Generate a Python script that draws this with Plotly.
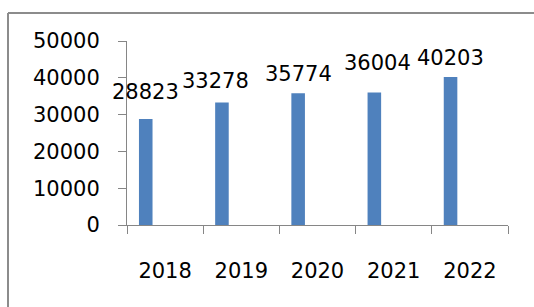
import plotly.graph_objects as go

years = ["2018", "2019", "2020", "2021", "2022"]
values = [28823, 33278, 35774, 36004, 40203]
y_ticks = [0, 10000, 20000, 30000, 40000, 50000]

# label nudges (px) relative to bar top/center
label_dx = [0, -6, 0, 3, 0]
label_dy = [27, 22, 19, 30, 19]

W, H = 534, 307
L, T = 127, 41
plot_w, plot_h = 381, 184
R = W - L - plot_w
B = H - T - plot_h
cat_px = plot_w / len(years)

bar_w = 0.178
bar_off = -0.343
bar_center_shift = (bar_off + bar_w / 2) * cat_px

FONT = "DejaVu Sans"
FS = 21
GRAY = "#868686"
FRAME = "#8C8C8C"

fig = go.Figure()
fig.add_trace(go.Bar(
    x=years, y=values,
    width=bar_w, offset=bar_off,
    marker=dict(color="#4F81BD", line=dict(width=0)),
    hoverinfo="skip",
))

for i, (v, dx, dy) in enumerate(zip(values, label_dx, label_dy)):
    fig.add_annotation(
        x=i, y=v, text=str(v), showarrow=False,
        xshift=bar_center_shift + dx, yshift=dy,
        xanchor="center", yanchor="middle",
        font=dict(family=FONT, size=FS, color="#000000"),
    )

# outer chart frame: only top and left edges are visible in the window
fx0 = (8 - L) / plot_w
fx1 = (W + 20 - L) / plot_w
fy_top = (H - B - 13) / plot_h
fy_bot = -(B + 20) / plot_h
fig.add_shape(type="line", xref="paper", yref="paper",
              x0=fx0, x1=fx1, y0=fy_top, y1=fy_top,
              line=dict(color=FRAME, width=2), layer="below")
fig.add_shape(type="line", xref="paper", yref="paper",
              x0=fx0, x1=fx0, y0=fy_bot, y1=fy_top,
              line=dict(color=FRAME, width=2), layer="below")

fig.update_layout(
    width=W, height=H,
    margin=dict(l=L, r=R, t=T, b=B, pad=0),
    paper_bgcolor="white", plot_bgcolor="white",
    showlegend=False,
    font=dict(family=FONT, size=FS, color="#000000"),
)
fig.update_xaxes(
    type="category", categoryorder="array", categoryarray=years,
    range=[-0.5, len(years) - 0.5],
    showline=True, linecolor=GRAY, linewidth=1,
    ticks="outside", ticklen=8, tickcolor=GRAY, tickwidth=1,
    tickson="boundaries", tickangle=0,
    showgrid=False, zeroline=False,
    ticklabelstandoff=27,
    tickfont=dict(family=FONT, size=FS, color="#000000"),
)
fig.update_yaxes(
    range=[0, 50000], tickvals=y_ticks,
    ticktext=[str(t) for t in y_ticks],
    showline=True, linecolor=GRAY, linewidth=1,
    ticks="outside", ticklen=8, tickcolor=GRAY, tickwidth=1,
    showgrid=False, zeroline=False,
    ticklabelstandoff=14,
    tickfont=dict(family=FONT, size=FS, color="#000000"),
)

page_css = (
    "document.body.style.margin='0';"
    "document.body.style.overflow='hidden';"
    "document.documentElement.style.overflow='hidden';"
)
fig.write_html("out.html", post_script=page_css,
               config={"displayModeBar": False, "staticPlot": True})
